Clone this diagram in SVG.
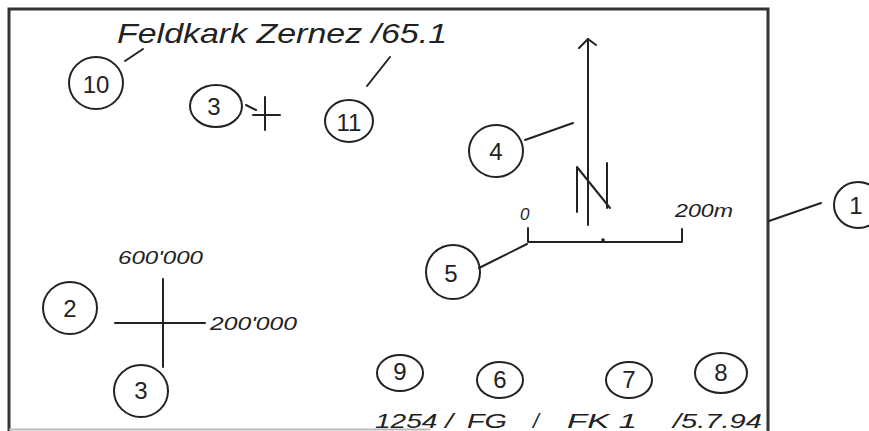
<svg xmlns="http://www.w3.org/2000/svg" width="869" height="431" viewBox="0 0 869 431">
<style>
.frame{fill:none;stroke:#333;stroke-width:3}
.ln{fill:none;stroke:#222;stroke-width:2;stroke-linecap:round;stroke-linejoin:round}
.cir{fill:none;stroke:#222;stroke-width:2}
.num{font-family:"Liberation Sans",Arial,sans-serif;font-size:24px;fill:#222;text-anchor:middle;dominant-baseline:central}
.hand{font-family:"Liberation Sans",Arial,sans-serif;fill:#222;font-style:italic}
.bot{font-family:"Liberation Sans",Arial,sans-serif;fill:#222;font-style:italic;font-size:21px}
</style>
<rect width="869" height="431" fill="#fff"/>
<g id="frame">
<polyline class="frame" points="9,431 9,9 768,9 768,431"/>
<line x1="9" y1="429.500" x2="430" y2="429.500" stroke="#bbb" stroke-width="2"/>
</g>
<g id="texts">
<text class="hand" x="117" y="43" font-size="28" textLength="330" lengthAdjust="spacingAndGlyphs">Feldkark Zernez /65.1</text>
<text class="hand" x="118" y="264" font-size="19" textLength="85" lengthAdjust="spacingAndGlyphs">600'000</text>
<text class="hand" x="210" y="330" font-size="19" textLength="87" lengthAdjust="spacingAndGlyphs">200'000</text>
<text class="hand" x="520" y="220" font-size="17">0</text>
<text class="hand" x="675" y="217" font-size="18" textLength="58" lengthAdjust="spacingAndGlyphs">200m</text>
<text class="bot" x="375" y="428" textLength="78" lengthAdjust="spacingAndGlyphs">1254 /</text>
<text class="bot" x="467" y="428" textLength="40" lengthAdjust="spacingAndGlyphs">FG</text>
<text class="bot" x="533" y="428">/</text>
<text class="bot" x="567" y="428" textLength="70" lengthAdjust="spacingAndGlyphs">FK 1</text>
<text class="bot" x="673" y="428" textLength="89" lengthAdjust="spacingAndGlyphs">/5.7.94</text>
</g>
<g id="symbols">
<line class="ln" x1="253" y1="115" x2="280" y2="115"/>
<line class="ln" x1="265" y1="97" x2="265" y2="130"/>
<line class="ln" x1="115" y1="323" x2="205" y2="323"/>
<line class="ln" x1="163" y1="279" x2="163" y2="367"/>
<line class="ln" x1="588" y1="39" x2="588" y2="225"/>
<polyline class="ln" points="579,48 588,39 596,45"/>
<polyline class="ln" points="577,212 577,167 610,208"/>
<line class="ln" x1="607" y1="163" x2="607" y2="208"/>
<polyline class="ln" points="528,228 528,242 682,242 682,229"/>
<circle cx="603" cy="240" r="1.800" fill="#222"/>
</g>
<g id="connectors">
<line class="ln" x1="125" y1="61" x2="143" y2="49"/>
<line class="ln" x1="246" y1="105" x2="256" y2="110"/>
<line class="ln" x1="367" y1="86" x2="390" y2="57"/>
<line class="ln" x1="525" y1="140" x2="573" y2="123"/>
<line class="ln" x1="479" y1="268" x2="527" y2="244"/>
<line class="ln" x1="769" y1="221" x2="821" y2="203"/>
</g>
<g id="n10"><ellipse class="cir" cx="96" cy="83" rx="27" ry="26"/><text class="num" x="96" y="84">10</text></g>
<g id="n3a"><ellipse class="cir" cx="216" cy="106" rx="26" ry="21"/><text class="num" x="214" y="106">3</text></g>
<g id="n11"><ellipse class="cir" cx="349" cy="121" rx="24" ry="21"/><text class="num" x="349" y="122">11</text></g>
<g id="n4"><ellipse class="cir" cx="496" cy="151" rx="27" ry="26"/><text class="num" x="496" y="151">4</text></g>
<g id="n5"><ellipse class="cir" cx="453" cy="272" rx="27" ry="27"/><text class="num" x="451" y="273">5</text></g>
<g id="n1"><ellipse class="cir" cx="858" cy="205" rx="24" ry="23"/><text class="num" x="856" y="205">1</text></g>
<g id="n2"><ellipse class="cir" cx="70" cy="308" rx="27" ry="26"/><text class="num" x="70" y="308">2</text></g>
<g id="n3b"><ellipse class="cir" cx="141" cy="391" rx="27" ry="26"/><text class="num" x="141" y="390">3</text></g>
<g id="n9"><ellipse class="cir" cx="400" cy="373" rx="23" ry="18"/><text class="num" x="400" y="371">9</text></g>
<g id="n6"><ellipse class="cir" cx="500" cy="380" rx="23" ry="18"/><text class="num" x="500" y="379">6</text></g>
<g id="n7"><ellipse class="cir" cx="629" cy="380" rx="23" ry="18"/><text class="num" x="629" y="379">7</text></g>
<g id="n8"><ellipse class="cir" cx="721" cy="373" rx="26" ry="20"/><text class="num" x="721" y="372">8</text></g>
</svg>
